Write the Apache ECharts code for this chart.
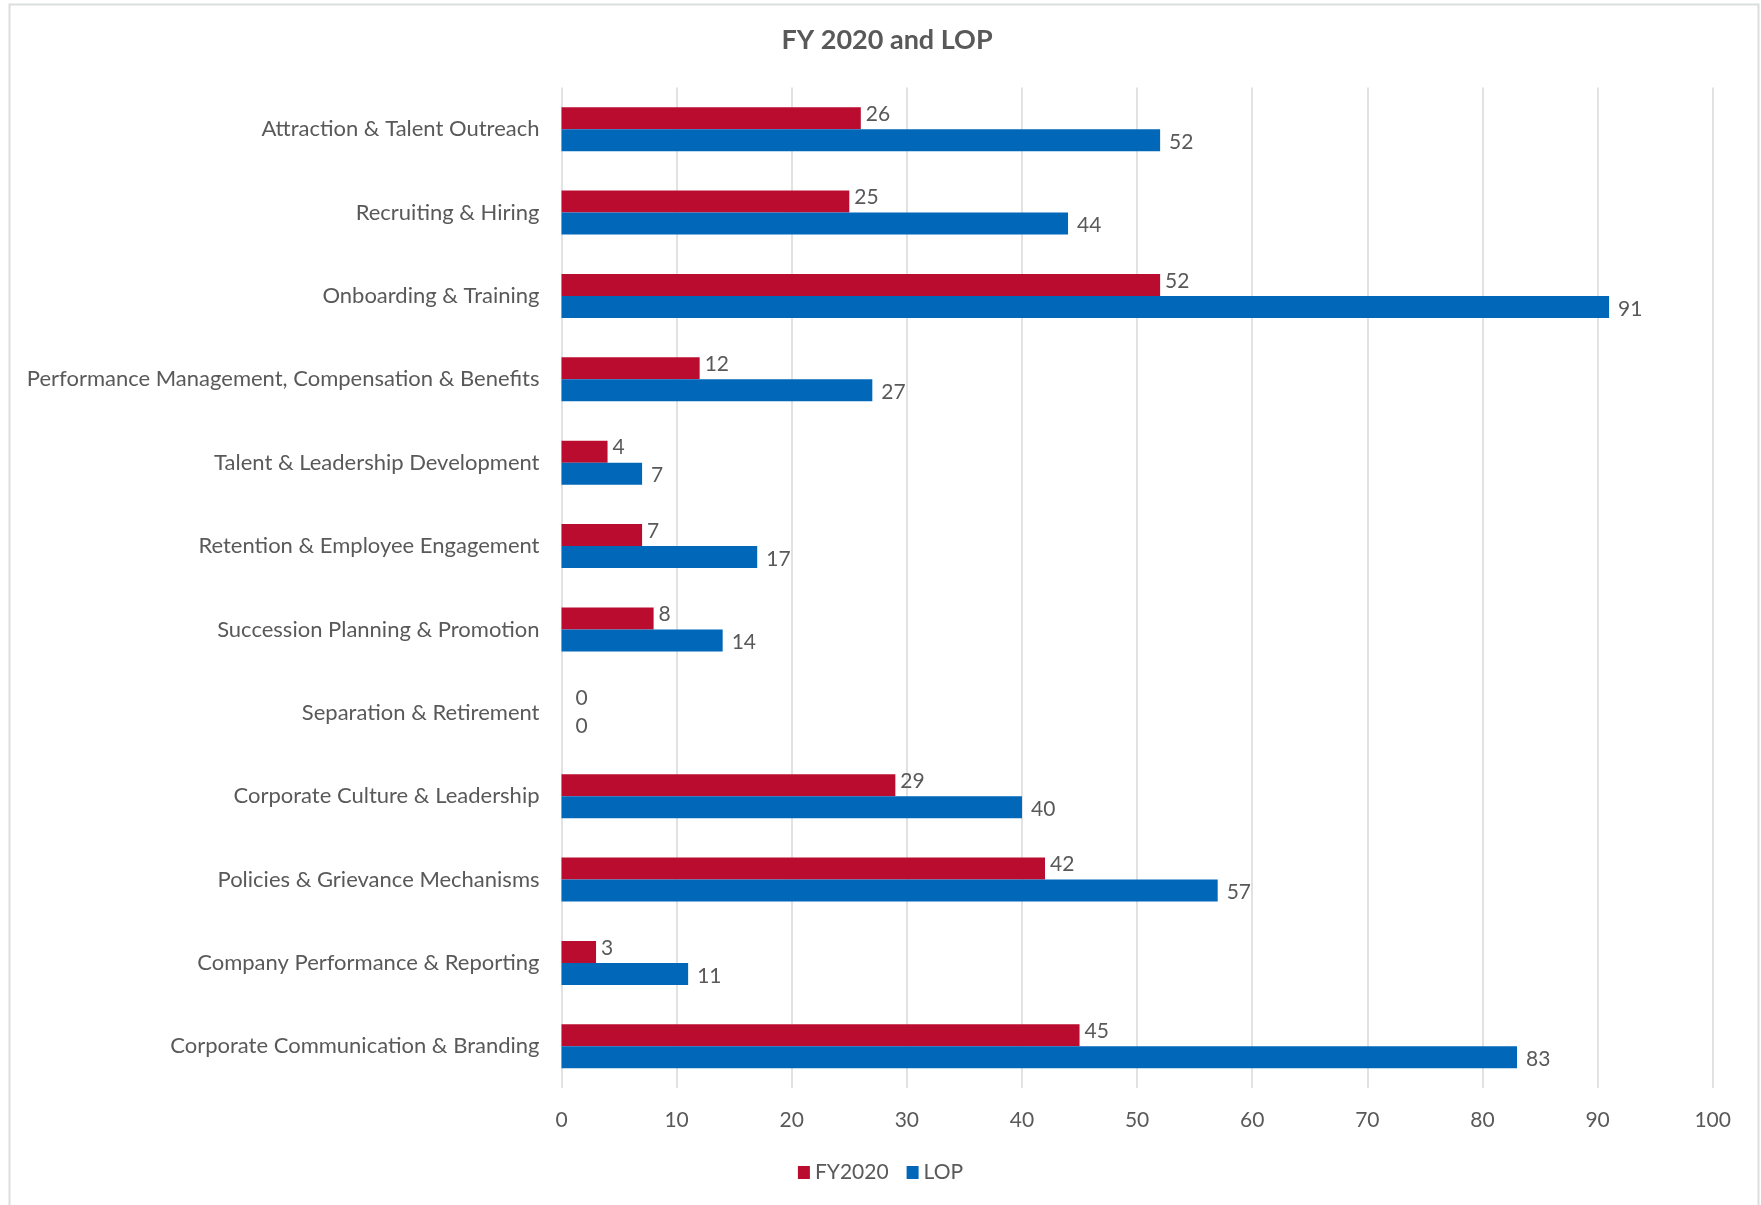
<!DOCTYPE html>
<html>
<head>
<meta charset="utf-8">
<script src="https://cdn.jsdelivr.net/npm/echarts@6/dist/echarts.min.js"></script>
<style>
  html, body { margin: 0; padding: 0; background: #fff; }
  #chart { width: 1761px; height: 1205px; }
</style>
</head>
<body>
<div id="chart"></div>
<script>
// Focus areas, listed top to bottom
const categories = [
  'Attraction & Talent Outreach',
  'Recruiting & Hiring',
  'Onboarding & Training',
  'Performance Management, Compensation & Benefits',
  'Talent & Leadership Development',
  'Retention & Employee Engagement',
  'Succession Planning & Promotion',
  'Separation & Retirement',
  'Corporate Culture & Leadership',
  'Policies & Grievance Mechanisms',
  'Company Performance & Reporting',
  'Corporate Communication & Branding'
];
const fy2020 = [26, 25, 52, 12, 4, 7, 8, 0, 29, 42, 3, 45];
const lop    = [52, 44, 91, 27, 7, 17, 14, 0, 40, 57, 11, 83];
const xTicks = { min: 0, max: 100, interval: 10 };

const FONT = 'Lato, "Open Sans", sans-serif';
const TEXT = '#595959';
const GRID = '#d9d9d9';

// zero-length bars get their label nudged clear of the axis line
function withLabels(values) {
  return values.map(v => v === 0 ? { value: v, label: { distance: 14 } } : v);
}

const chart = echarts.init(document.getElementById('chart'), null, { renderer: 'canvas' });
chart.setOption({
  backgroundColor: '#fff',
  animation: false,
  title: {
    text: 'FY 2020 and LOP',
    left: 882, top: 22, textAlign: 'center',
    textStyle: { fontFamily: FONT, fontSize: 27, fontWeight: 'bold', color: TEXT }
  },
  graphic: [{
    type: 'rect',
    shape: { x: 9.5, y: 4.5, width: 1749, height: 1240 },
    style: { fill: 'none', stroke: '#dadfdb', lineWidth: 2 },
    silent: true
  }],
  legend: {
    bottom: 17,
    left: 'center',
    itemWidth: 12, itemHeight: 13, itemGap: 18,
    icon: 'rect',
    textStyle: { fontFamily: FONT, fontSize: 21, color: TEXT },
    data: ['FY2020', 'LOP']
  },
  grid: { left: 561.5, right: 48.3, top: 87.5, bottom: 117, containLabel: false },
  xAxis: {
    type: 'value',
    min: xTicks.min, max: xTicks.max, interval: xTicks.interval,
    axisLine: { show: false },
    axisTick: { show: false },
    axisLabel: { fontFamily: FONT, fontSize: 21, color: TEXT, margin: 22 },
    splitLine: { show: true, lineStyle: { color: GRID, width: 1.5 } }
  },
  yAxis: {
    type: 'category',
    data: categories,
    inverse: true,
    axisLine: { show: false },
    axisTick: { show: false },
    axisLabel: { fontFamily: FONT, fontSize: 22, color: TEXT, margin: 22 }
  },
  series: [
    {
      name: 'FY2020', type: 'bar',
      data: withLabels(fy2020),
      barWidth: 22, barGap: '0%',
      itemStyle: { color: '#ba0c2f' },
      label: { show: true, position: 'right', distance: 5, fontFamily: FONT, fontSize: 21, color: TEXT, offset: [0, -4] }
    },
    {
      name: 'LOP', type: 'bar',
      data: withLabels(lop),
      barWidth: 22, barGap: '0%',
      itemStyle: { color: '#0067b9' },
      label: { show: true, position: 'right', distance: 9, fontFamily: FONT, fontSize: 21, color: TEXT, offset: [0, 2] }
    }
  ]
});
</script>
</body>
</html>
